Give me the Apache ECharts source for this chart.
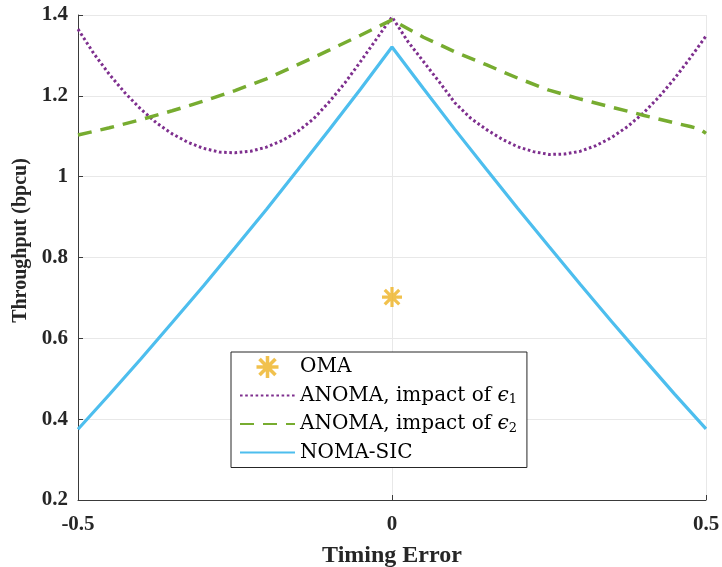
<!DOCTYPE html>
<html>
<head>
<meta charset="utf-8">
<script src="https://cdn.jsdelivr.net/npm/echarts@6/dist/echarts.min.js"></script>
<style>
  html, body { margin: 0; padding: 0; background: #fff; }
  #main { width: 722px; height: 567px; }
</style>
</head>
<body>
<div id="main"></div>
<script>
// 数据
var omaX = [0];
var omaY = [0.702];

// ANOMA, impact of eps1 (step 0.025)
var anoma1X = [-0.5, -0.475, -0.45, -0.425, -0.4, -0.375, -0.35, -0.325, -0.3, -0.275, -0.25,
    -0.225, -0.2, -0.175, -0.15, -0.125, -0.1, -0.075, -0.05, -0.025, 0,
    0.025, 0.05, 0.075, 0.1, 0.125, 0.15, 0.175, 0.2, 0.225, 0.25,
    0.275, 0.3, 0.325, 0.35, 0.375, 0.4, 0.425, 0.45, 0.475, 0.5];
var anoma1Y = [1.365, 1.305, 1.253, 1.207, 1.167, 1.133, 1.106, 1.085, 1.070, 1.061, 1.059,
    1.063, 1.073, 1.089, 1.112, 1.143, 1.185, 1.232, 1.285, 1.340, 1.395,
    1.335, 1.285, 1.235, 1.183, 1.145, 1.117, 1.093, 1.074, 1.062, 1.055,
    1.056, 1.063, 1.077, 1.097, 1.124, 1.157, 1.197, 1.243, 1.294, 1.348];

// ANOMA, impact of eps2
var anoma2X = [-0.5, -0.45, -0.4, -0.35, -0.3, -0.25, -0.2, -0.15, -0.1, -0.05, 0,
    0.05, 0.1, 0.15, 0.2, 0.25, 0.3, 0.35, 0.4, 0.45, 0.475, 0.49, 0.5];
var anoma2Y = [1.103, 1.121, 1.141, 1.163, 1.187, 1.213, 1.242, 1.277, 1.313, 1.350, 1.388,
    1.345, 1.309, 1.277, 1.244, 1.214, 1.192, 1.172, 1.152, 1.133, 1.124, 1.118, 1.107];

// NOMA-SIC
var nomaX = [-0.5, -0.45, -0.4, -0.35, -0.3, -0.25, -0.2, -0.15, -0.1, -0.05, 0,
    0.05, 0.1, 0.15, 0.2, 0.25, 0.3, 0.35, 0.4, 0.45, 0.5];
var nomaY = [0.375, 0.461, 0.549, 0.639, 0.730, 0.824, 0.919, 1.017, 1.116, 1.217, 1.321,
    1.218, 1.117, 1.019, 0.922, 0.827, 0.733, 0.641, 0.551, 0.462, 0.376];

function pairs(xs, ys) {
    var out = [];
    for (var i = 0; i < xs.length; i++) {
        out.push([xs[i], ys[i]]);
    }
    return out;
}

// 星号 (MATLAB '*')
var asterisk = 'path://M8.4,0 L11.6,0 L11.6,20 L8.4,20 Z M0,8.4 L20,8.4 L20,11.6 L0,11.6 Z ' +
    'M1.6,3.9 L3.9,1.6 L18.4,16.1 L16.1,18.4 Z M16.1,1.6 L18.4,3.9 L3.9,18.4 L1.6,16.1 Z';

var serif = '"Liberation Serif", "Times New Roman", serif';
var lserif = '"DejaVu Serif", serif';

// legend 里线条不要圆点
var hideDot = { color: 'rgba(0,0,0,0)', borderWidth: 0 };

var myChart = echarts.init(document.getElementById('main'));

myChart.setOption({
    animation: false,
    backgroundColor: '#fff',
    grid: {
        left: 78,
        right: 16,
        top: 15,
        bottom: 67,
        outerBoundsMode: 'none',
        containLabel: false
    },
    legend: {
        orient: 'vertical',
        left: 231,
        top: 352,
        padding: [4, 10, 5, 8],
        itemGap: 7.5,
        itemWidth: 55,
        itemHeight: 22,
        borderColor: '#262626',
        borderWidth: 1,
        backgroundColor: '#fff',
        data: [
            { name: 'OMA' },
            { name: 'ANOMA, impact of ϵ1', itemStyle: hideDot },
            { name: 'ANOMA, impact of ϵ2', itemStyle: hideDot },
            { name: 'NOMA-SIC', itemStyle: hideDot }
        ],
        formatter: function (name) {
            var m = name.match(/^ANOMA, impact of ϵ(\d)$/);
            if (m) {
                return '{t|ANOMA, impact of }{e|ϵ}{s|' + m[1] + '}';
            }
            return '{t|' + name + '}';
        },
        textStyle: {
            fontFamily: lserif,
            fontSize: 20,
            color: '#000',
            rich: {
                t: { fontFamily: lserif, fontSize: 20, color: '#000', lineHeight: 22 },
                e: { fontFamily: lserif, fontSize: 20, fontStyle: 'italic', color: '#000', lineHeight: 22 },
                s: { fontFamily: lserif, fontSize: 13, color: '#000', lineHeight: 22, verticalAlign: 'bottom', padding: [6, 0, 0, 0] }
            }
        }
    },
    xAxis: {
        type: 'value',
        min: -0.5,
        max: 0.5,
        interval: 0.5,
        name: 'Timing Error',
        nameLocation: 'middle',
        nameGap: 44,
        nameTextStyle: {
            fontFamily: serif,
            fontWeight: 'bold',
            fontSize: 24,
            color: '#262626'
        },
        axisLine: { show: true, onZero: false, lineStyle: { color: '#3a3a3a', width: 1 } },
        axisTick: { show: true, inside: true, length: 5, lineStyle: { color: '#3a3a3a' } },
        axisLabel: {
            margin: 14,
            fontFamily: serif,
            fontWeight: 'bold',
            fontSize: 21,
            color: '#262626',
            showMinLabel: true,
            showMaxLabel: true
        },
        splitLine: { show: true, lineStyle: { color: '#e8e8e8', width: 1 } }
    },
    yAxis: {
        type: 'value',
        min: 0.2,
        max: 1.4,
        interval: 0.2,
        name: 'Throughput (bpcu)',
        nameLocation: 'middle',
        nameGap: 45,
        nameTextStyle: {
            fontFamily: serif,
            fontWeight: 'bold',
            fontSize: 20,
            color: '#262626',
            padding: [0, 0, 0, 34]
        },
        axisLine: { show: true, onZero: false, lineStyle: { color: '#3a3a3a', width: 1 } },
        axisTick: { show: true, inside: true, length: 5, lineStyle: { color: '#3a3a3a' } },
        axisLabel: {
            margin: 10,
            fontFamily: serif,
            fontWeight: 'bold',
            fontSize: 21,
            color: '#262626'
        },
        splitLine: { show: true, lineStyle: { color: '#e8e8e8', width: 1 } }
    },
    series: [
        {
            name: 'OMA',
            type: 'scatter',
            symbol: asterisk,
            symbolSize: 20,
            symbolKeepAspect: true,
            itemStyle: { color: '#EDB120' },
            data: pairs(omaX, omaY),
            z: 3
        },
        {
            name: 'ANOMA, impact of ϵ1',
            type: 'line',
            symbol: 'none',
            data: pairs(anoma1X, anoma1Y),
            itemStyle: { color: '#7E2F8E' },
            lineStyle: { color: '#7E2F8E', width: 3, type: [2.6, 2.6] }
        },
        {
            name: 'ANOMA, impact of ϵ2',
            type: 'line',
            symbol: 'none',
            data: pairs(anoma2X, anoma2Y),
            itemStyle: { color: '#77AC30' },
            lineStyle: { color: '#77AC30', width: 3.5, type: [14, 9] }
        },
        {
            name: 'NOMA-SIC',
            type: 'line',
            symbol: 'none',
            data: pairs(nomaX, nomaY),
            itemStyle: { color: '#4DBEEE' },
            lineStyle: { color: '#4DBEEE', width: 3.2 }
        }
    ]
});
</script>
</body>
</html>
